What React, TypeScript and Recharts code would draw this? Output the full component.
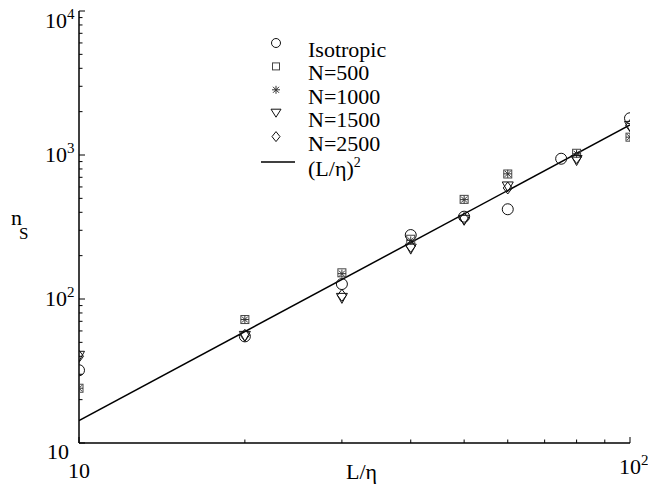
import React from 'react';
import { ScatterChart, Scatter, XAxis, YAxis, Legend } from 'recharts';

const FONT = 'Liberation Serif';

// n_s against L/eta for each run
const isotropic = [
  { x: 10, y: 32 }, { x: 20, y: 55 }, { x: 30, y: 127 }, { x: 40, y: 278 },
  { x: 50, y: 373 }, { x: 60, y: 420 }, { x: 75, y: 942 }, { x: 100, y: 1800 },
];
const n500 = [
  { x: 10, y: 24 }, { x: 20, y: 72 }, { x: 30, y: 152 }, { x: 40, y: 260 },
  { x: 50, y: 492 }, { x: 60, y: 738 }, { x: 80, y: 1028 }, { x: 100, y: 1330 },
];
const n1000 = [
  { x: 10, y: 24 }, { x: 20, y: 72 }, { x: 30, y: 150 }, { x: 40, y: 255 },
  { x: 50, y: 490 }, { x: 60, y: 740 }, { x: 80, y: 1020 }, { x: 100, y: 1330 },
];
const n1500 = [
  { x: 10, y: 40 }, { x: 20, y: 55 }, { x: 30, y: 101 }, { x: 40, y: 222 },
  { x: 50, y: 352 }, { x: 60, y: 600 }, { x: 80, y: 915 }, { x: 100, y: 1580 },
];
const n2500 = [
  { x: 10, y: 40 }, { x: 20, y: 56 }, { x: 30, y: 106 }, { x: 40, y: 232 },
  { x: 50, y: 362 }, { x: 60, y: 590 }, { x: 80, y: 960 }, { x: 100, y: 1600 },
];
// reference power-law line, end points
const fitLine = [{ x: 10, y: 14.3 }, { x: 100, y: 1620 }];

const legendNames = ['Isotropic', 'N=500', 'N=1000', 'N=1500', 'N=2500'];

const xTicks = [10, 20, 30, 40, 50, 60, 70, 80, 90, 100];
const yTicks = [
  10, 20, 30, 40, 50, 60, 70, 80, 90,
  100, 200, 300, 400, 500, 600, 700, 800, 900,
  1000, 2000, 3000, 4000, 5000, 6000, 7000, 8000, 9000, 10000,
];
const xTickLabels: Record<number, [string, string]> = { 10: ['10', ''], 100: ['10', '2'] };
const yTickLabels: Record<number, [string, string]> = {
  10: ['10', ''], 100: ['10', '2'], 1000: ['10', '3'], 10000: ['10', '4'],
};

// ---- markers ----
const Circle = ({ cx, cy, r = 5.5 }: any) => (
  <circle cx={cx} cy={cy} r={r} fill="none" stroke="#111" strokeWidth={1} />
);
const Square = ({ cx, cy, s = 8 }: any) => (
  <rect x={cx - s / 2} y={cy - s / 2} width={s} height={s} fill="none" stroke="#444" strokeWidth={1} />
);
const Star = ({ cx, cy, s = 8 }: any) => {
  const h = s / 2;
  const d = h * 0.75;
  return (
    <path
      d={`M${cx - h},${cy}H${cx + h}M${cx},${cy - h}V${cy + h}M${cx - d},${cy - d}L${cx + d},${cy + d}M${cx - d},${cy + d}L${cx + d},${cy - d}`}
      stroke="#333"
      strokeWidth={1}
      fill="none"
    />
  );
};
const TriDown = ({ cx, cy, w = 11, h = 10 }: any) => (
  <path
    d={`M${cx - w / 2},${cy - h / 2}L${cx + w / 2},${cy - h / 2}L${cx},${cy + h / 2}Z`}
    fill="none"
    stroke="#111"
    strokeWidth={1}
  />
);
const Diamond = ({ cx, cy, w = 9, h = 12 }: any) => (
  <path
    d={`M${cx},${cy - h / 2}L${cx + w / 2},${cy}L${cx},${cy + h / 2}L${cx - w / 2},${cy}Z`}
    fill="none"
    stroke="#111"
    strokeWidth={1}
  />
);
const NoDot = () => <g />;

// ---- ticks: drawn inward, labels as 10^k ----
const makeTick = (side: 'bottom' | 'left' | 'top' | 'right', labels?: Record<number, [string, string]>) =>
  (props: any) => {
    const { x, y, payload } = props;
    const v = payload.value;
    const lab = labels ? labels[v] : undefined;
    const len = yTickLabels[v] || xTickLabels[v] ? 6 : 3.5;
    let line;
    if (side === 'bottom') line = <line x1={x} x2={x} y1={y} y2={y - len} stroke="#000" />;
    else if (side === 'top') line = <line x1={x} x2={x} y1={y} y2={y + len} stroke="#000" />;
    else if (side === 'left') line = <line x1={x} x2={x + len} y1={y} y2={y} stroke="#000" />;
    else line = <line x1={x} x2={x - len} y1={y} y2={y} stroke="#000" />;
    let text = null;
    if (lab) {
      const [base, exp] = lab;
      if (side === 'bottom') {
        text = (
          <text x={x - 11} y={exp ? 474 : 478} fontFamily={FONT} fontSize={22} fill="#000">
            {base}
            {exp && <tspan fontSize={15} dy={-9}>{exp}</tspan>}
          </text>
        );
      } else {
        const dy = v === 10 ? 16 : v === 10000 ? 17 : 7;
        text = (
          <text x={exp ? 45 : 69} y={y + dy} fontFamily={FONT} fontSize={22} fill="#000" textAnchor={exp ? 'start' : 'end'}>
            {base}
            {exp && <tspan fontSize={15} dy={-9}>{exp}</tspan>}
          </text>
        );
      }
    }
    return (
      <g>
        {line}
        {text}
      </g>
    );
  };

const legendMarkers = [
  (cx: number, cy: number) => <Circle cx={cx} cy={cy} r={4.5} />,
  (cx: number, cy: number) => <Square cx={cx} cy={cy} s={7} />,
  (cx: number, cy: number) => <Star cx={cx} cy={cy} s={8} />,
  (cx: number, cy: number) => <TriDown cx={cx} cy={cy} w={10} h={8} />,
  (cx: number, cy: number) => <Diamond cx={cx} cy={cy} w={8} h={10} />,
];

const LegendBox = () => (
  <svg width={170} height={160} style={{ overflow: 'visible' }}>
    {legendNames.map((name, i) => (
      <g key={name}>
        {legendMarkers[i](26, 15 + i * 23.4)}
        <text x={58} y={29 + i * 23.4} fontFamily={FONT} fontSize={22} fill="#000">
          {name}
        </text>
      </g>
    ))}
    <line x1={11} x2={45} y1={134} y2={134} stroke="#000" strokeWidth={1.5} />
    <text x={58} y={148} fontFamily={FONT} fontSize={22} fill="#000">
      (L/η)<tspan fontSize={14} dy={-9}>2</tspan>
    </text>
  </svg>
);

const titleStyle: React.CSSProperties = {
  position: 'absolute',
  fontFamily: FONT,
  fontSize: 22,
  lineHeight: 1,
  color: '#000',
  whiteSpace: 'nowrap',
};

export default function App() {
  return (
    <div style={{ position: 'absolute', left: 0, top: 0, width: 648, height: 485, background: '#fff', fontFamily: FONT }}>
      <ScatterChart width={648} height={485} margin={{ top: 11, right: 18, left: 0, bottom: 0 }}>
        <XAxis
          xAxisId="b"
          dataKey="x"
          type="number"
          scale="log"
          domain={[10, 100]}
          ticks={xTicks}
          interval={0}
          height={42}
          tickSize={0}
          tickMargin={0}
          axisLine={{ stroke: '#000', strokeWidth: 1.5 }}
          tickLine={false}
          tick={makeTick('bottom', xTickLabels)}
          allowDataOverflow
        />
        <XAxis
          xAxisId="t"
          orientation="top"
          dataKey="x"
          type="number"
          scale="log"
          domain={[10, 100]}
          ticks={xTicks}
          interval={0}
          height={0}
          tickSize={0}
          tickMargin={0}
          axisLine={{ stroke: '#000', strokeWidth: 1.5 }}
          tickLine={false}
          tick={makeTick('top')}
          allowDataOverflow
        />
        <YAxis
          yAxisId="l"
          dataKey="y"
          type="number"
          scale="log"
          domain={[10, 10000]}
          ticks={yTicks}
          interval={0}
          width={79}
          tickSize={0}
          tickMargin={0}
          axisLine={{ stroke: '#000', strokeWidth: 1.5 }}
          tickLine={false}
          tick={makeTick('left', yTickLabels)}
          allowDataOverflow
        />
        <YAxis
          yAxisId="r"
          orientation="right"
          dataKey="y"
          type="number"
          scale="log"
          domain={[10, 10000]}
          ticks={yTicks}
          interval={0}
          width={0}
          tickSize={0}
          tickMargin={0}
          axisLine={{ stroke: '#000', strokeWidth: 1.5 }}
          tickLine={false}
          tick={makeTick('right')}
          allowDataOverflow
        />
        <Legend
          layout="vertical"
          align="center"
          verticalAlign="middle"
          wrapperStyle={{ left: 250, top: 28, width: 170, height: 160 }}
          content={() => <LegendBox />}
        />
        <Scatter name="fit" data={fitLine} xAxisId="b" yAxisId="l" line={{ stroke: '#000', strokeWidth: 1.5 }} shape={NoDot} legendType="none" isAnimationActive={false} />
        <Scatter name="Isotropic" data={isotropic} xAxisId="b" yAxisId="l" shape={(p: any) => <Circle cx={p.cx} cy={p.cy} />} isAnimationActive={false} />
        <Scatter name="N=500" data={n500} xAxisId="b" yAxisId="l" shape={(p: any) => <Square cx={p.cx} cy={p.cy} />} isAnimationActive={false} />
        <Scatter name="N=1000" data={n1000} xAxisId="b" yAxisId="l" shape={(p: any) => <Star cx={p.cx} cy={p.cy} />} isAnimationActive={false} />
        <Scatter name="N=1500" data={n1500} xAxisId="b" yAxisId="l" shape={(p: any) => <TriDown cx={p.cx} cy={p.cy} />} isAnimationActive={false} />
        <Scatter name="N=2500" data={n2500} xAxisId="b" yAxisId="l" shape={(p: any) => <Diamond cx={p.cx} cy={p.cy} />} isAnimationActive={false} />
      </ScatterChart>
      {/* axis titles */}
      <div style={{ ...titleStyle, left: 346, top: 461 }}>L/η</div>
      <div style={{ ...titleStyle, left: 11, top: 207 }}>n</div>
      <div style={{ ...titleStyle, left: 19, top: 225, fontSize: 17 }}>S</div>
    </div>
  );
}
